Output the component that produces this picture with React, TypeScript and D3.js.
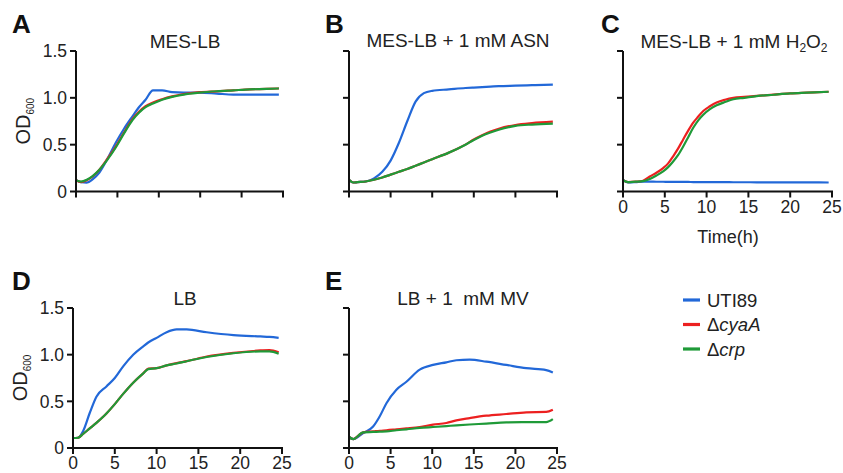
import React from 'react';
import * as d3 from 'd3';

// time points (h) and OD600 readings per panel
const timeA = [0, 0.6, 1.3, 2, 2.8, 3.8, 4.8, 5.8, 6.8, 7.6, 8.4, 9.3, 10.4, 11.6, 13, 14.9, 17, 19, 21, 23, 24.5];
const utiA = [0.12, 0.1, 0.095, 0.13, 0.2, 0.35, 0.52, 0.67, 0.8, 0.9, 0.98, 1.08, 1.08, 1.06, 1.055, 1.055, 1.045, 1.035, 1.035, 1.035, 1.035];
const cyaA_A = [0.12, 0.1, 0.12, 0.16, 0.23, 0.35, 0.48, 0.63, 0.77, 0.85, 0.91, 0.95, 0.985, 1.015, 1.04, 1.06, 1.07, 1.08, 1.09, 1.095, 1.1];
const crpA = [0.12, 0.105, 0.125, 0.165, 0.23, 0.34, 0.47, 0.62, 0.76, 0.84, 0.9, 0.94, 0.98, 1.01, 1.035, 1.055, 1.07, 1.08, 1.09, 1.095, 1.1];

const timeB = [0, 0.5, 1, 2, 3, 4, 5, 6, 7, 8, 9, 10, 12, 14, 15, 16, 17, 18, 20, 22, 24.5];
const utiB = [0.125, 0.096, 0.1, 0.107, 0.14, 0.21, 0.33, 0.52, 0.75, 0.96, 1.05, 1.075, 1.09, 1.105, 1.11, 1.115, 1.12, 1.125, 1.13, 1.135, 1.14];
const cyaA_B = [0.125, 0.096, 0.1, 0.107, 0.125, 0.15, 0.18, 0.21, 0.24, 0.275, 0.31, 0.345, 0.415, 0.5, 0.555, 0.6, 0.64, 0.67, 0.71, 0.73, 0.745];
const crpB = [0.125, 0.096, 0.1, 0.107, 0.125, 0.15, 0.18, 0.21, 0.24, 0.275, 0.31, 0.345, 0.415, 0.5, 0.55, 0.595, 0.63, 0.66, 0.7, 0.715, 0.725];

const timeC = [0, 0.6, 1.5, 2.4, 3.2, 4, 4.8, 5.4, 6, 6.6, 7.2, 7.8, 8.4, 9, 9.6, 10.4, 11.2, 12.2, 13.2, 14.5, 16, 18, 20, 22, 24.6];
const utiC = [0.125, 0.097, 0.1, 0.105, 0.105, 0.104, 0.104, 0.103, 0.103, 0.102, 0.102, 0.102, 0.101, 0.101, 0.1, 0.1, 0.1, 0.1, 0.099, 0.099, 0.098, 0.098, 0.097, 0.097, 0.096];
const cyaA_C = [0.12, 0.1, 0.105, 0.115, 0.16, 0.2, 0.25, 0.3, 0.376, 0.46, 0.556, 0.65, 0.735, 0.8, 0.86, 0.91, 0.95, 0.98, 1.0, 1.01, 1.02, 1.035, 1.047, 1.055, 1.065];
const crpC = [0.12, 0.1, 0.105, 0.11, 0.133, 0.17, 0.215, 0.26, 0.32, 0.39, 0.48, 0.58, 0.68, 0.76, 0.82, 0.88, 0.92, 0.955, 0.985, 1.0, 1.018, 1.033, 1.047, 1.055, 1.065];

const timeD = [0, 0.6, 1.2, 2, 2.8, 4, 5, 6, 7.2, 8.4, 9, 10, 11.2, 12.4, 13.6, 16, 19.2, 22.4, 23.5, 24.6];
const utiD = [0.107, 0.11, 0.18, 0.375, 0.55, 0.66, 0.75, 0.875, 1.0, 1.09, 1.13, 1.18, 1.24, 1.27, 1.27, 1.24, 1.21, 1.195, 1.19, 1.18];
const cyaA_D = [0.107, 0.11, 0.15, 0.21, 0.27, 0.37, 0.47, 0.58, 0.7, 0.8, 0.85, 0.855, 0.885, 0.91, 0.93, 0.98, 1.02, 1.045, 1.05, 1.025];
const crpD = [0.107, 0.11, 0.15, 0.21, 0.27, 0.37, 0.47, 0.58, 0.7, 0.8, 0.845, 0.855, 0.885, 0.905, 0.93, 0.975, 1.015, 1.035, 1.035, 1.01];

const timeE = [0, 0.5, 1.7, 2.9, 3.7, 4.5, 5.7, 6.9, 8.5, 10.1, 11.7, 12.9, 14.5, 16.5, 18.9, 21.3, 23.7, 24.5];
const utiE = [0.118, 0.096, 0.16, 0.23, 0.34, 0.48, 0.625, 0.71, 0.84, 0.89, 0.918, 0.94, 0.946, 0.925, 0.89, 0.855, 0.835, 0.81];
const cyaA_E = [0.118, 0.096, 0.168, 0.178, 0.185, 0.19, 0.2, 0.21, 0.225, 0.25, 0.268, 0.296, 0.32, 0.346, 0.364, 0.382, 0.386, 0.41];
const crpE = [0.118, 0.096, 0.168, 0.172, 0.175, 0.178, 0.19, 0.2, 0.215, 0.225, 0.235, 0.243, 0.252, 0.262, 0.275, 0.277, 0.278, 0.31];

const xTicks = [0, 5, 10, 15, 20, 25];
const yTicks = [0, 0.5, 1.0, 1.5];
const strains = ['UTI89', 'cyaA', 'crp'];
const colors = ['#2268d8', '#ec2020', '#1f9a38'];

const font = '"Liberation Sans", Arial, sans-serif';

const Panel = (props) => {
    const {x0, x1, yTop, yBot, time, series, letter, letterX, title, yLabels, xLabels} = props;
    const x = d3.scaleLinear().domain([0, 25]).range([x0, x1]);
    const y = d3.scaleLinear().domain([0, 1.5]).range([yBot, yTop]);
    const line = d3.line().x(d => x(d[0])).y(d => y(d[1])).curve(d3.curveMonotoneX);
    const midY = (yTop + yBot) / 2;

    return (
        <g fontFamily={font}>
            <text x={letterX} y={yTop - 18} fontSize="26" fontWeight="bold" fill="#111">{letter}</text>
            {title}
            {series.map((vals, i) =>
                <path key={i} d={line(time.map((t, j) => [t, vals[j]]))} fill="none" stroke={colors[i]} strokeWidth="2.2" strokeLinejoin="round" />
            )}
            <line x1={x0} x2={x0} y1={yTop} y2={yBot} stroke="#111" strokeWidth="2" />
            <line x1={x0} x2={x1 + 1} y1={yBot} y2={yBot} stroke="#111" strokeWidth="2" />
            {yTicks.map(v =>
                <g key={v}>
                    <line x1={x0 - 6} x2={x0} y1={y(v)} y2={y(v)} stroke="#111" strokeWidth="2" />
                    {yLabels && <text x={x0 - 9} y={y(v)} dy="0.36em" textAnchor="end" fontSize="17.5" fill="#222">{v === 0 ? '0' : v.toFixed(1)}</text>}
                </g>
            )}
            {xTicks.map(v =>
                <g key={v}>
                    <line x1={x(v)} x2={x(v)} y1={yBot} y2={yBot + 6} stroke="#111" strokeWidth="2" />
                    {xLabels && <text x={x(v)} y={yBot + 21} textAnchor="middle" fontSize="17.5" fill="#222">{v}</text>}
                </g>
            )}
            {yLabels &&
                <text transform={`translate(${x0 - 46},${midY}) rotate(-90)`} textAnchor="middle" fontSize="20" fill="#222">
                    OD<tspan fontSize="10" dy="4">600</tspan>
                </text>}
        </g>
    );
};

export default function App() {
    const titleStyle = {fontFamily: font, fontSize: 19, fill: '#222'};
    return (
        <svg width={843} height={473} style={{position: 'absolute', left: 0, top: 0, background: '#fff'}}>
            <Panel x0={76} x1={283} yTop={51} yBot={191.5} time={timeA} series={[utiA, cyaA_A, crpA]} letter="A" letterX={12} yLabels
                title={<text x={185} y={48} textAnchor="middle" style={titleStyle}>MES-LB</text>} />
            <Panel x0={349} x1={557} yTop={51} yBot={191.5} time={timeB} series={[utiB, cyaA_B, crpB]} letter="B" letterX={325}
                title={<text x={458} y={47} textAnchor="middle" style={titleStyle}>MES-LB + 1 mM ASN</text>} />
            <Panel x0={623} x1={832} yTop={51} yBot={191.5} time={timeC} series={[utiC, cyaA_C, crpC]} letter="C" letterX={601} xLabels
                title={<text x={734} y={48} textAnchor="middle" style={titleStyle}>MES-LB + 1 mM H<tspan fontSize="12" dy="4">2</tspan><tspan dy="-4">O</tspan><tspan fontSize="12" dy="4">2</tspan></text>} />
            <text x={728} y={243} textAnchor="middle" style={{...titleStyle, fontSize: 18}}>Time(h)</text>
            <Panel x0={73} x1={282} yTop={308} yBot={448} time={timeD} series={[utiD, cyaA_D, crpD]} letter="D" letterX={12} yLabels xLabels
                title={<text x={185} y={305} textAnchor="middle" style={titleStyle}>LB</text>} />
            <Panel x0={349} x1={557} yTop={308} yBot={448} time={timeE} series={[utiE, cyaA_E, crpE]} letter="E" letterX={325} xLabels
                title={<text x={463} y={305} textAnchor="middle" style={{...titleStyle, whiteSpace: 'pre'}}>{'LB + 1  mM MV'}</text>} />
            <g fontFamily={font} fontSize="18.5" fill="#222">
                {strains.map((s, i) =>
                    <g key={s} transform={`translate(683,${300 + i * 24.5})`}>
                        <line x1={0} x2={17} y1={0} y2={0} stroke={colors[i]} strokeWidth="3.2" />
                        <text x={24} y={0} dy="0.36em">{i === 0 ? s : <>Δ<tspan fontStyle="italic">{s}</tspan></>}</text>
                    </g>
                )}
            </g>
        </svg>
    );
}
